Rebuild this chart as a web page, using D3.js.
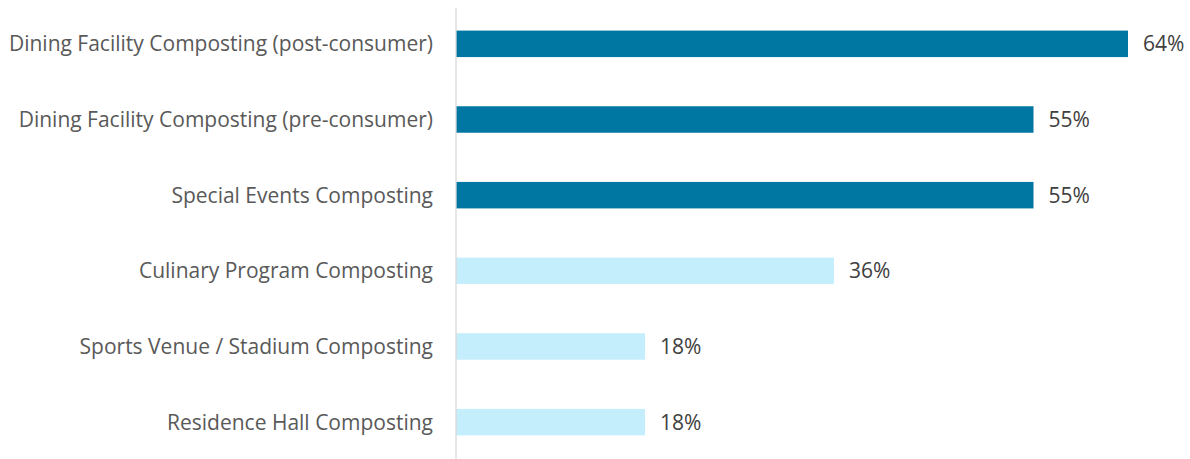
<!DOCTYPE html>
<html>
<head>
<meta charset="utf-8">
<script src="https://cdn.jsdelivr.net/npm/d3@7"></script>
<style>
  html, body { margin: 0; padding: 0; background: #ffffff; }
  svg { display: block; }
</style>
</head>
<body>
<svg id="chart" width="1190" height="459"></svg>
<script>
const categories = [
  "Dining Facility Composting (post-consumer)",
  "Dining Facility Composting (pre-consumer)",
  "Special Events Composting",
  "Culinary Program Composting",
  "Sports Venue / Stadium Composting",
  "Residence Hall Composting"
];
const values = [64, 55, 55, 36, 18, 18];
const highlight = [true, true, true, false, false, false];
const valueLabels = ["64%", "55%", "55%", "36%", "18%", "18%"];

const svg = d3.select("#chart");
const axisX = 456;

const x = d3.scaleLinear().domain([0, 70]).range([axisX, axisX + 10.5 * 70]);
const y = d3.scaleBand().domain(categories).range([6, 460]).paddingInner(0.65).paddingOuter(0.325);

const data = categories.map((c, i) => ({ c, v: values[i], hi: highlight[i], lab: valueLabels[i] }));

svg.selectAll("rect.bar").data(data).enter().append("rect")
  .attr("class", "bar")
  .attr("x", x(0))
  .attr("y", d => y(d.c))
  .attr("width", d => x(d.v) - x(0))
  .attr("height", y.bandwidth())
  .attr("fill", d => d.hi ? "#0077A2" : "#C5EEFD");

// axis line
svg.append("line")
  .attr("x1", axisX).attr("x2", axisX)
  .attr("y1", 8).attr("y2", 459)
  .attr("stroke", "#D9D9D9").attr("stroke-width", 1.3);

const font = "'Open Sans', sans-serif";

svg.selectAll("text.cat").data(data).enter().append("text")
  .attr("class", "cat")
  .attr("x", axisX - 23)
  .attr("y", d => y(d.c) + y.bandwidth() / 2)
  .attr("dy", "0.36em")
  .attr("text-anchor", "end")
  .attr("font-family", font)
  .attr("font-size", 21)
  .attr("fill", "#595959")
  .text(d => d.c);

svg.selectAll("text.val").data(data).enter().append("text")
  .attr("class", "val")
  .attr("x", d => x(d.v) + 15)
  .attr("y", d => y(d.c) + y.bandwidth() / 2)
  .attr("dy", "0.36em")
  .attr("font-family", font)
  .attr("font-size", 21)
  .attr("fill", "#404040")
  .text(d => d.lab);
</script>
</body>
</html>
